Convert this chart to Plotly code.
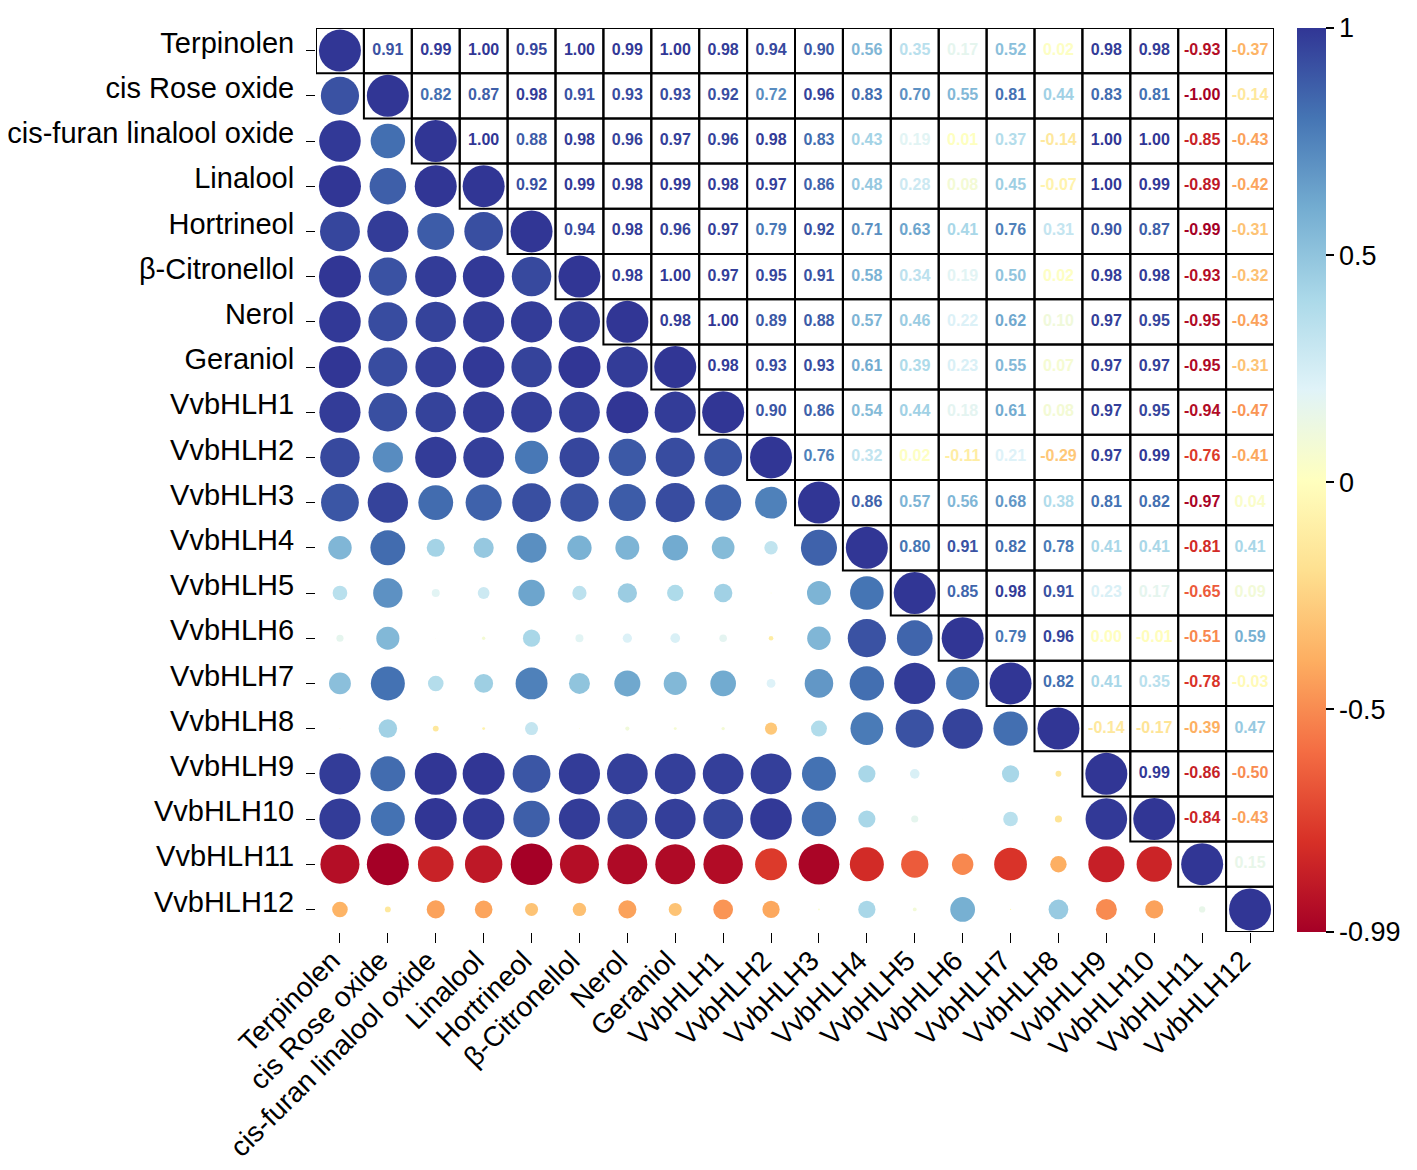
import plotly.graph_objects as go
from plotly.colors import sample_colorscale

names = ["Terpinolen", "cis Rose oxide", "cis-furan linalool oxide", "Linalool",
         "Hortrineol", "β-Citronellol", "Nerol", "Geraniol", "VvbHLH1", "VvbHLH2",
         "VvbHLH3", "VvbHLH4", "VvbHLH5", "VvbHLH6", "VvbHLH7", "VvbHLH8",
         "VvbHLH9", "VvbHLH10", "VvbHLH11", "VvbHLH12"]

# upper triangle, row by row (values right of the diagonal)
r01 = [0.91, 0.99, 1.00, 0.95, 1.00, 0.99, 1.00, 0.98, 0.94, 0.90, 0.56, 0.35, 0.17, 0.52, 0.02, 0.98, 0.98, -0.93, -0.37]
r02 = [0.82, 0.87, 0.98, 0.91, 0.93, 0.93, 0.92, 0.72, 0.96, 0.83, 0.70, 0.55, 0.81, 0.44, 0.83, 0.81, -1.00, -0.14]
r03 = [1.00, 0.88, 0.98, 0.96, 0.97, 0.96, 0.98, 0.83, 0.43, 0.19, 0.01, 0.37, -0.14, 1.00, 1.00, -0.85, -0.43]
r04 = [0.92, 0.99, 0.98, 0.99, 0.98, 0.97, 0.86, 0.48, 0.28, 0.08, 0.45, -0.07, 1.00, 0.99, -0.89, -0.42]
r05 = [0.94, 0.98, 0.96, 0.97, 0.79, 0.92, 0.71, 0.63, 0.41, 0.76, 0.31, 0.90, 0.87, -0.99, -0.31]
r06 = [0.98, 1.00, 0.97, 0.95, 0.91, 0.58, 0.34, 0.19, 0.50, 0.02, 0.98, 0.98, -0.93, -0.32]
r07 = [0.98, 1.00, 0.89, 0.88, 0.57, 0.46, 0.22, 0.62, 0.10, 0.97, 0.95, -0.95, -0.43]
r08 = [0.98, 0.93, 0.93, 0.61, 0.39, 0.23, 0.55, 0.07, 0.97, 0.97, -0.95, -0.31]
r09 = [0.90, 0.86, 0.54, 0.44, 0.18, 0.61, 0.08, 0.97, 0.95, -0.94, -0.47]
r10 = [0.76, 0.32, 0.02, -0.11, 0.21, -0.29, 0.97, 0.99, -0.76, -0.41]
r11 = [0.86, 0.57, 0.56, 0.68, 0.38, 0.81, 0.82, -0.97, 0.04]
r12 = [0.80, 0.91, 0.82, 0.78, 0.41, 0.41, -0.81, 0.41]
r13 = [0.85, 0.98, 0.91, 0.23, 0.17, -0.65, 0.09]
r14 = [0.79, 0.96, 0.00, -0.01, -0.51, 0.59]
r15 = [0.82, 0.41, 0.35, -0.78, -0.03]
r16 = [-0.14, -0.17, -0.39, 0.47]
r17 = [0.99, -0.86, -0.50]
r18 = [-0.84, -0.43]
r19 = [0.15]

cbar_vals = [1, 0.5, 0, -0.5, -0.99]
cbar_text = ["1", "0.5", "0", "-0.5", "-0.99"]

upper = [r01, r02, r03, r04, r05, r06, r07, r08, r09, r10,
         r11, r12, r13, r14, r15, r16, r17, r18, r19, []]
n = len(names)
vmin, vmax = -0.99, 1.0

# full symmetric matrix
m = [[1.0] * n for _ in range(n)]
for i, row in enumerate(upper):
    for k, v in enumerate(row):
        j = i + 1 + k
        m[i][j] = v
        m[j][i] = v

# circles: lower triangle + diagonal
cx, cy, cval = [], [], []
for i in range(n):
    for j in range(i + 1):
        cx.append(j)
        cy.append(i)
        cval.append(m[i][j])

# numbers: upper triangle
tx, ty, tval = [], [], []
for i in range(n):
    for j in range(i + 1, n):
        tx.append(j)
        ty.append(i)
        tval.append(m[i][j])

tcol = sample_colorscale("RdYlBu", [(v - vmin) / (vmax - vmin) for v in tval])

fig = go.Figure()
fig.add_trace(go.Scatter(
    x=cx, y=cy, mode="markers",
    marker=dict(
        size=[42 * abs(v) for v in cval], opacity=1,
        color=cval, colorscale="RdYlBu", cmin=vmin, cmax=vmax,
        line=dict(width=0),
        colorbar=dict(
            x=1.024, xanchor="left", xref="paper", xpad=0,
            y=0.5, yanchor="middle", len=1, lenmode="fraction", ypad=0,
            thickness=29, outlinewidth=0,
            tickvals=cbar_vals, ticktext=cbar_text,
            ticks="outside", ticklen=8, tickcolor="black", tickwidth=1.5,
            ticklabelposition="outside",
            tickfont=dict(size=27, color="black"),
        ),
    ),
    hoverinfo="skip", showlegend=False,
))
fig.add_trace(go.Scatter(
    x=tx, y=ty, mode="text",
    text=[f"{v:.2f}" for v in tval],
    textfont=dict(size=16, color=tcol, family="Arial, Liberation Sans", weight="bold"),
    hoverinfo="skip", showlegend=False,
))

# black boxes on the upper triangle (diagonal included)
for i in range(n):
    for j in range(i, n):
        fig.add_shape(type="rect", xref="x", yref="y",
                      x0=j - 0.5, x1=j + 0.5, y0=i - 0.5, y1=i + 0.5,
                      line=dict(color="black", width=2), layer="above")

# page body has an 8px margin, so the figure is 8px smaller
fig.update_layout(
    width=1409, height=1162,
    margin=dict(l=308, r=143, t=20, b=238, autoexpand=False),
    plot_bgcolor="white", paper_bgcolor="white",
    font=dict(family="Arial, Liberation Sans, sans-serif", color="black"),
)
fig.update_xaxes(
    range=[-0.5, n - 0.5], tickvals=list(range(n)), ticktext=names,
    tickangle=-45, tickfont=dict(size=28), ticks="outside", ticklen=10,
    tickcolor="black", ticklabelstandoff=-10, ticklabelshift=-8,
    showgrid=False, zeroline=False, showline=False, automargin=False,
)
fig.update_yaxes(
    range=[n - 0.5, -0.5], tickvals=list(range(n)), ticktext=names,
    tickfont=dict(size=29), ticks="outside", ticklen=9, tickcolor="black",
    ticklabelshift=8, ticklabelstandoff=6,
    showgrid=False, zeroline=False, showline=False, automargin=False,
)

fig.write_html("out.html")
